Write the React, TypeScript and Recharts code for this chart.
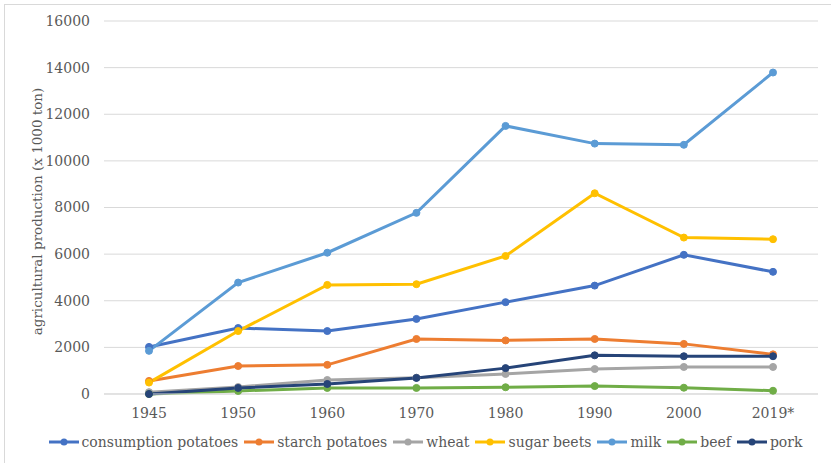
import React from "react";
import {
  LineChart, Line, XAxis, YAxis, CartesianGrid, Legend,
} from "recharts";

const years = ["1945", "1950", "1960", "1970", "1980", "1990", "2000", "2019*"];

// production in x 1000 ton
const consumptionPotatoes = [2020, 2830, 2700, 3220, 3940, 4650, 5970, 5240];
const starchPotatoes = [560, 1200, 1250, 2360, 2300, 2360, 2150, 1700];
const wheat = [80, 300, 600, 700, 860, 1070, 1160, 1160];
const sugarBeets = [490, 2700, 4680, 4710, 5920, 8610, 6710, 6640];
const milk = [1850, 4780, 6060, 7770, 11500, 10740, 10690, 13790];
const beef = [0, 130, 260, 260, 290, 340, 270, 140];
const pork = [0, 260, 430, 690, 1110, 1660, 1620, 1620];

const yTicks = [0, 2000, 4000, 6000, 8000, 10000, 12000, 14000, 16000];

const series = [
  { key: "cp", name: "consumption potatoes", color: "#4472C4", values: consumptionPotatoes },
  { key: "sp", name: "starch potatoes", color: "#ED7D31", values: starchPotatoes },
  { key: "wh", name: "wheat", color: "#A5A5A5", values: wheat },
  { key: "sb", name: "sugar beets", color: "#FFC000", values: sugarBeets },
  { key: "mi", name: "milk", color: "#5B9BD5", values: milk },
  { key: "be", name: "beef", color: "#70AD47", values: beef },
  { key: "po", name: "pork", color: "#264478", values: pork },
];

const data = years.map((year, i) => {
  const row: Record<string, string | number> = { year };
  series.forEach((s) => { row[s.key] = s.values[i]; });
  return row;
});

const font = "'DejaVu Serif', Georgia, serif";
const textColor = "#595959";
const tickStyle = { fontSize: 14, fill: textColor, fontFamily: font };

// legend keeps the series order instead of sorting by name
function LegendRow() {
  return (
    <div style={{
      display: "flex", justifyContent: "center", alignItems: "center", height: 30,
      gap: 6, fontFamily: font, fontSize: 14, color: textColor, whiteSpace: "nowrap",
    }}>
      {series.map((s) => (
        <span key={s.key} style={{ display: "flex", alignItems: "center" }}>
          <svg width={30} height={10}>
            <line x1={0} y1={5} x2={30} y2={5} stroke={s.color} strokeWidth={3} />
            <circle cx={15} cy={5} r={3.5} fill={s.color} />
          </svg>
          <span style={{ marginLeft: 3, fontFamily: font }}>{s.name}</span>
        </span>
      ))}
    </div>
  );
}

export default function App() {
  return (
    <div style={{
      position: "absolute", left: 0, top: 0, width: 831, height: 463,
      overflow: "hidden", background: "#fff",
    }}>
      <div style={{
        position: "absolute", left: 4, top: 4, width: 850, height: 480,
        border: "1px solid #d9d9d9",
      }} />
      <LineChart
        width={831}
        height={463}
        data={data}
        margin={{ top: 21, right: 13, left: 20, bottom: 6 }}
        style={{ position: "absolute", left: 0, top: 0 }}
      >
        <CartesianGrid vertical={false} stroke="#d9d9d9" strokeWidth={1} />
        <XAxis
          dataKey="year"
          tickLine={false}
          axisLine={{ stroke: "#d9d9d9" }}
          tick={tickStyle}
          tickMargin={8}
          height={33}
          padding={{ left: 45, right: 45 }}
        />
        <YAxis
          domain={[0, 16000]}
          ticks={yTicks}
          tickLine={false}
          axisLine={false}
          tick={tickStyle}
          tickMargin={8}
          width={84}
          label={{
            value: "agricultural production (x 1000 ton)",
            angle: -90,
            position: "insideLeft",
            offset: 17,
            dy: 4,
            style: { textAnchor: "middle", fontSize: 13.5, fill: textColor, fontFamily: font },
          }}
        />
        <Legend
          verticalAlign="bottom"
          height={30}
          content={<LegendRow />}
          wrapperStyle={{ left: 20, width: 811 }}
        />
        {series.map((s) => (
          <Line
            key={s.key}
            dataKey={s.key}
            name={s.name}
            stroke={s.color}
            strokeWidth={3}
            dot={{ r: 3.5, fill: s.color, stroke: s.color, strokeWidth: 1 }}
            activeDot={false}
            isAnimationActive={false}
          />
        ))}
      </LineChart>
    </div>
  );
}
